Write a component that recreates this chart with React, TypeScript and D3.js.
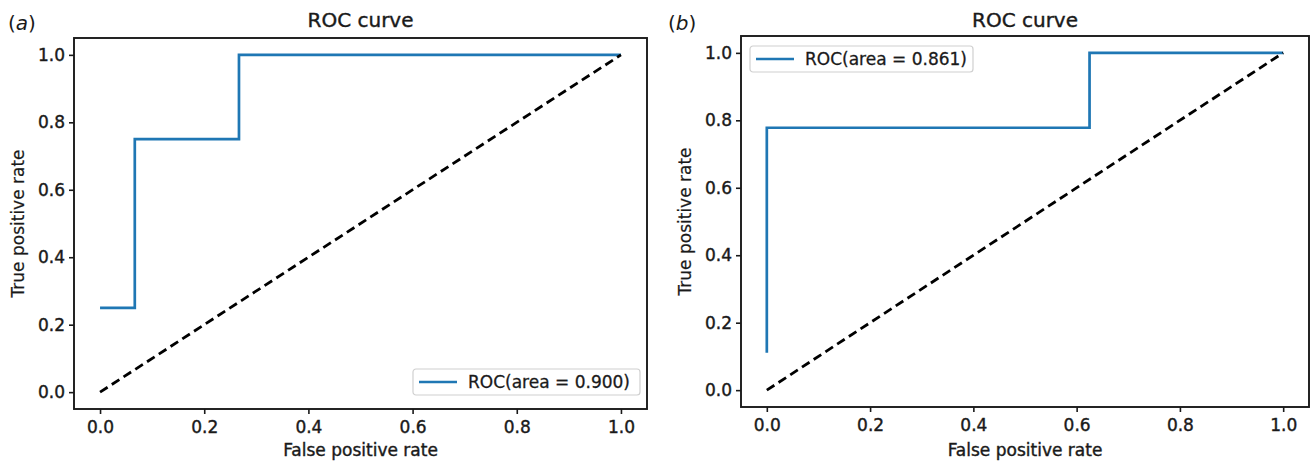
import React, { useEffect, useRef } from "react";
import * as d3 from "d3";

// panel (a)
const fprA = [0, 0.0667, 0.0667, 0.2667, 0.2667, 1];
const tprA = [0.25, 0.25, 0.75, 0.75, 1, 1];
const aucA = "0.900";

// panel (b)
const fprB = [0, 0, 0.625, 0.625, 1];
const tprB = [0.111, 0.778, 0.778, 1, 1];
const aucB = "0.861";

const diagX = [0, 1];
const diagY = [0, 1];
const ticks = [0, 0.2, 0.4, 0.6, 0.8, 1.0];

const FONT = "DejaVu Sans, Verdana, sans-serif";
const BLUE = "#1f77b4";
const INK = "#1a1a1a";

// blurry scan look: text a bit heavier than normal weight
function heavy(sel, w = 0.4) {
  return sel.attr("stroke", INK).attr("stroke-width", w).attr("fill", INK);
}

function drawPanel(svg, p) {
  const { left, right, top, bottom, fpr, tpr, auc, tag, tagX, legend } = p;
  const x = d3.scaleLinear().domain([-0.05, 1.05]).range([left, right]);
  const y = d3.scaleLinear().domain([-0.05, 1.05]).range([bottom, top]);
  const g = svg.append("g");

  const line = d3
    .line()
    .x((d) => x(d[0]))
    .y((d) => y(d[1]));

  g.append("path")
    .datum(fpr.map((v, i) => [v, tpr[i]]))
    .attr("d", line)
    .attr("fill", "none")
    .attr("stroke", BLUE)
    .attr("stroke-width", 2.7);

  g.append("path")
    .datum(diagX.map((v, i) => [v, diagY[i]]))
    .attr("d", line)
    .attr("fill", "none")
    .attr("stroke", "#000")
    .attr("stroke-width", 2.8)
    .attr("stroke-dasharray", "9,5");

  // axes
  const xAxis = d3.axisBottom(x).tickValues(ticks).tickFormat(d3.format(".1f")).tickSize(5).tickPadding(4);
  const yAxis = d3.axisLeft(y).tickValues(ticks).tickFormat(d3.format(".1f")).tickSize(5).tickPadding(4);
  const gx = g.append("g").attr("transform", `translate(0,${bottom})`).call(xAxis);
  const gy = g.append("g").attr("transform", `translate(${left},0)`).call(yAxis);
  [gx, gy].forEach((a) => {
    a.select(".domain").remove();
    a.selectAll("line").attr("stroke", INK).attr("stroke-width", 1.6);
    heavy(a.selectAll("text").attr("font-family", FONT).attr("font-size", 17));
  });
  gx.selectAll("text").attr("dy", "0.9em");

  // frame
  g.append("rect")
    .attr("x", left)
    .attr("y", top)
    .attr("width", right - left)
    .attr("height", bottom - top)
    .attr("fill", "none")
    .attr("stroke", INK)
    .attr("stroke-width", 1.9);

  const mid = (left + right) / 2;
  heavy(
    g.append("text")
      .attr("x", mid)
      .attr("y", 27)
      .attr("text-anchor", "middle")
      .attr("font-family", FONT)
      .attr("font-size", 20)
      .text("ROC curve")
  );

  heavy(
    g.append("text")
      .attr("x", mid)
      .attr("y", 456)
      .attr("text-anchor", "middle")
      .attr("font-family", FONT)
      .attr("font-size", 17)
      .text("False positive rate")
  );

  heavy(
    g.append("text")
      .attr("transform", `translate(${left - 50},${(top + bottom) / 2}) rotate(-90)`)
      .attr("text-anchor", "middle")
      .attr("font-family", FONT)
      .attr("font-size", 17)
      .text("True positive rate"),
    0.2
  );

  // panel tag
  const t = g.append("text")
    .attr("x", tagX)
    .attr("y", 30)
    .attr("font-family", FONT)
    .attr("font-size", 20)
    .attr("fill", INK);
  t.append("tspan").text("(");
  t.append("tspan").attr("font-style", "italic").text(tag);
  t.append("tspan").text(")");

  // legend
  const lg = g.append("g").attr("transform", `translate(${legend.x},${legend.y})`);
  lg.append("rect")
    .attr("width", legend.w)
    .attr("height", 26)
    .attr("rx", 3)
    .attr("fill", "#fff")
    .attr("fill-opacity", 0.85)
    .attr("stroke", "#d0d0d0")
    .attr("stroke-width", 1.2);
  lg.append("line")
    .attr("x1", 6)
    .attr("x2", 44)
    .attr("y1", 13)
    .attr("y2", 13)
    .attr("stroke", BLUE)
    .attr("stroke-width", 2.7);
  heavy(
    lg.append("text")
      .attr("x", 55)
      .attr("y", 19)
      .attr("font-family", FONT)
      .attr("font-size", 17)
      .text(`ROC(area = ${auc})`),
    0.3
  );
}

export default function App() {
  const ref = useRef(null);

  useEffect(() => {
    const svg = d3.select(ref.current);
    svg.selectAll("*").remove();
    drawPanel(svg, {
      left: 74, right: 647, top: 38, bottom: 409,
      fpr: fprA, tpr: tprA, auc: aucA, tag: "a", tagX: 8,
      legend: { x: 413, y: 369, w: 227 },
    });
    drawPanel(svg, {
      left: 741, right: 1309, top: 36, bottom: 407,
      fpr: fprB, tpr: tprB, auc: aucB, tag: "b", tagX: 668,
      legend: { x: 750, y: 46, w: 223 },
    });
  }, []);

  return (
    <svg
      ref={ref}
      width={1312}
      height={462}
      style={{ position: "absolute", left: 0, top: 0, background: "#fff" }}
    ></svg>
  );
}
